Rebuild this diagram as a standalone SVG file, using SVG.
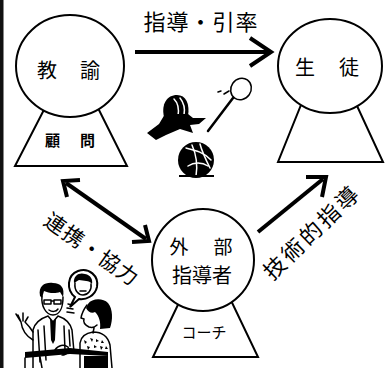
<svg xmlns="http://www.w3.org/2000/svg" width="391" height="368" viewBox="0 0 391 368">
  <style>
    .shape { fill: #fff; stroke: #000; stroke-width: 2; }
    .jp { font-family: "Noto Sans CJK JP", "Noto Sans", sans-serif; fill: #000; }
    .big { font-size: 20px; }
    .small { font-size: 15px; }
    .arrow { fill: none; stroke: #000; stroke-width: 4; stroke-linecap: butt; stroke-linejoin: miter; }
    .ink { fill: #000; }
    .line { fill: none; stroke: #000; stroke-width: 1.5; stroke-linecap: round; stroke-linejoin: round; }
    .wline { fill: none; stroke: #fff; stroke-width: 1.5; stroke-linecap: round; }
  </style>

  <rect width="391" height="368" fill="#fff"/>
  <!-- left frame edge -->
  <rect x="0" y="0" width="3.5" height="368" fill="#111"/>

  <!-- teacher -->
  <g id="teacher">
    <polygon class="shape" points="49,100 94,100 127,166 15,166"/>
    <ellipse class="shape" cx="70" cy="66" rx="54" ry="51"/>
    <text class="jp big" x="47" y="77.6" text-anchor="middle">教</text>
    <text class="jp big" x="90" y="77.6" text-anchor="middle">諭</text>
    <text class="jp small" x="52.5" y="145.7" text-anchor="middle" font-weight="bold">顧</text>
    <text class="jp small" x="87.5" y="145.7" text-anchor="middle" font-weight="bold">問</text>
  </g>

  <!-- students -->
  <g id="students">
    <polygon class="shape" points="305,95 352,95 383,162 278,162"/>
    <ellipse class="shape" cx="330" cy="66" rx="52" ry="47"/>
    <text class="jp big" x="305" y="74.6" text-anchor="middle">生</text>
    <text class="jp big" x="349" y="74.6" text-anchor="middle">徒</text>
  </g>

  <!-- external coach -->
  <g id="coach">
    <polygon class="shape" points="185,290 226,290 258,357 153,357"/>
    <circle class="shape" cx="203" cy="260" r="51"/>
    <text class="jp" font-size="19" x="179" y="254" text-anchor="middle">外</text>
    <text class="jp" font-size="19" x="223" y="254" text-anchor="middle">部</text>
    <text class="jp big" x="202" y="283" text-anchor="middle">指導者</text>
    <text class="jp small" x="204" y="337.7" text-anchor="middle">コーチ</text>
  </g>

  <!-- connectors -->
  <g id="connectors">
    <path class="arrow" d="M135,52 H269"/>
    <path class="arrow" d="M250,38 L271,52 L250,66"/>

    <path class="arrow" d="M66,183 L146,239"/>
    <path class="arrow" d="M80,180 L63,181 L67,197"/>
    <path class="arrow" d="M132,242 L149,241 L145,225"/>

    <path class="arrow" d="M258,232 L323,179"/>
    <path class="arrow" d="M306,177 L326,177 L322,197"/>
  </g>

  <!-- connector labels -->
  <g id="labels">
    <text class="jp" font-size="22" x="201" y="30.4" text-anchor="middle" letter-spacing="1">指導・引率</text>
    <text class="jp" font-size="21" text-anchor="middle" transform="translate(92,249) rotate(35)" y="8" letter-spacing="1">連携・協力</text>
    <text class="jp" font-size="22" text-anchor="middle" transform="translate(312,232) rotate(-44)" y="8" letter-spacing="3">技術的指導</text>
  </g>

  <!-- sports equipment -->
  <g id="equipment">
    <!-- helmet -->
    <path class="ink" d="M164,117 C161,104 167,95 177,95 C186,95 190,104 188,116 Z"/>
    <path class="wline" d="M174,99 C178,103 179,110 178,116"/>
    <path class="wline" d="M180,98 C184,103 185,110 184,115"/>
    <path class="ink" d="M147,133 L159,124 L165,114 L188,114 L193,118 L206,118 L199,124 L190,125 L193,133 L180,129 L166,135 L156,140 Z"/>
    <!-- racket and shuttle -->
    <ellipse class="line" cx="241" cy="89" rx="10" ry="11" transform="rotate(35 241 89)"/>
    <path d="M233,98 L208,131" fill="none" stroke="#000" stroke-width="2.5" stroke-linecap="round"/>
    <path class="line" d="M218,92 L221,91 M224,94 L229,91"/>
    <!-- basketball -->
    <circle class="ink" cx="196" cy="160" r="18"/>
    <path class="wline" d="M186,148 C194,150 204,152 211,160"/>
    <path class="wline" d="M192,145 C196,154 198,164 196,176"/>
    <path class="wline" d="M200,144 C202,152 206,160 210,168"/>
    <path class="wline" d="M188,166 C194,162 202,162 208,166"/>
    <path d="M179,176 L214,176" stroke="#000" stroke-width="2"/>
  </g>

  <!-- meeting scene -->
  <g id="meeting">
    <!-- speech bubble -->
    <path class="shape" stroke-width="1.5" d="M75,297 C66,290 67,275 78,271 C89,267 99,276 97,287 C95,296 86,300 79,299 L70,307 Z"/>
    <path class="ink" d="M74,283 C73,275 80,272 85,274 C91,275 93,280 92,284 C89,280 84,281 79,280 C77,281 76,282 74,283 Z"/>
    <path class="line" stroke-width="1.2" d="M75,283 C74,291 79,295 83,295 C88,295 92,290 91,284"/>
    <path class="line" stroke-width="1" d="M80,291 L86,291"/>
    <!-- speech marks -->
    <path class="line" d="M68,304 L72,305 M67,308 L73,309 M67,312 L74,313"/>

    <!-- man -->
    <path class="ink" d="M40,296 C38,285 46,282 53,283 C61,283 65,288 63,297 L60,292 C55,294 48,293 44,291 L42,298 Z"/>
    <path class="line" d="M42,296 C41,306 46,315 53,315 C60,315 63,307 63,297"/>
    <path class="line" stroke-width="1.2" d="M44,300 H51 V304 H44 Z M54,300 H61 V304 H54 Z M51,301 H54"/>
    <path class="line" stroke-width="1.2" d="M49,310 C52,312 56,312 58,309"/>
    <path class="line" d="M33,368 L33,330 C35,322 42,318 48,316 L53,322 L58,316 C64,318 70,322 72,330 L74,352"/>
    <path class="line" stroke-width="1" d="M38,330 L40,362 M44,326 L46,360 M64,326 L65,350 M69,330 L70,346"/>
    <path class="ink" d="M50,318 L53,322 L56,318 L55,340 L53,344 L51,340 Z"/>
    <!-- raised hand -->
    <path class="line" d="M33,340 C26,336 22,330 21,322 L16,314 M21,322 L18,315 M23,321 L23,313 M25,322 L28,317 M33,332 C30,327 27,324 25,322"/>
    <!-- hand on desk -->
    <path class="line" d="M55,350 C58,345 64,344 68,347 C70,351 67,355 62,355"/>

    <!-- woman -->
    <path class="ink" d="M88,304 C92,298 103,298 108,303 C113,309 113,320 110,328 L100,329 C101,322 99,316 95,312 C92,314 88,312 86,308 Z"/>
    <path class="line" d="M87,305 C84,309 82,312 81,318 L84,319 C83,322 85,325 89,327 C92,328 95,327 97,325"/>
    <path class="line" d="M94,328 L93,333"/>
    <path class="line" d="M80,368 L80,343 C81,336 86,333 93,332 C102,332 108,337 110,345 L112,368"/>
    <path class="ink" d="M84,340 l3,2 l-2,2 z M90,338 l3,1 l-1,3 z M96,339 l3,2 l-3,1 z M102,340 l2,3 l-3,0 z M87,346 l3,1 l-2,3 z M94,345 l3,2 l-3,1 z M100,346 l3,1 l-2,3 z M106,346 l2,3 l-3,0 z"/>

    <!-- desk -->
    <path class="ink" d="M25,352 L70,348 L108,352 L108,356 L70,354 L25,358 Z"/>
    <rect class="ink" x="84" y="356" width="24" height="12"/>
    <path class="line" d="M25,358 L25,368 M40,357 L42,368"/>
  </g>
</svg>
